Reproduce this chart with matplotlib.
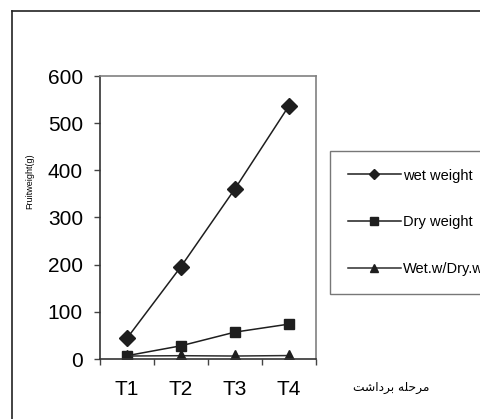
import matplotlib.pyplot as plt
from matplotlib.lines import Line2D

stages = ["T1", "T2", "T3", "T4"]
wet_weight = [44, 196, 361, 537]
dry_weight = [7, 28, 57, 74]
wet_dry_ratio = [6.3, 7.0, 6.3, 7.3]
yticks = [0, 100, 200, 300, 400, 500, 600]

W, H = 481, 419
fig = plt.figure(figsize=(W / 100, H / 100), dpi=100)
plt.rcParams['font.family'] = ['Liberation Sans', 'DejaVu Sans']

# outer chart frame, its right and bottom edges run off the page
fig.add_artist(Line2D([12 / W, 1.01], [1 - 11 / H, 1 - 11 / H], color='#222222', lw=1.2))
fig.add_artist(Line2D([12 / W, 12 / W], [1 - 11 / H, -0.01], color='#222222', lw=1.2))

ax = fig.add_axes([100 / W, 1 - 359 / H, 216 / W, 283 / H])
x = range(len(stages))
ink = '#1e1e1e'
ax.plot(x, wet_weight, color=ink, lw=1.1, marker='D', ms=8, label='wet weight')
ax.plot(x, dry_weight, color=ink, lw=1.1, marker='s', ms=7.5, label='Dry weight')
ax.plot(x, wet_dry_ratio, color='#2e2e2e', lw=1.1, marker='^', ms=8.5,
        markerfacecolor=ink, markeredgecolor=ink, label='Wet.w/Dry.w')

ax.set_xlim(-0.5, 3.5)
ax.set_ylim(0, 600)
ax.set_yticks(yticks)
ax.set_xticks(list(x))
ax.set_xticklabels(stages)
ax.set_xticks([-0.5, 0.5, 1.5, 2.5, 3.5], minor=True)
ax.tick_params(axis='x', which='major', length=0, pad=15, labelsize=15)
ax.tick_params(axis='x', which='minor', length=4, width=1, color='#444444', direction='out')
ax.tick_params(axis='y', length=4.3, width=1, color='#444444', direction='out', pad=8, labelsize=15)

for side in ('top', 'right'):
    ax.spines[side].set_color('#808080')
    ax.spines[side].set_linewidth(1.2)
for side in ('left', 'bottom'):
    ax.spines[side].set_color('#333333')
    ax.spines[side].set_linewidth(1.2)

fig.text(30 / W, 1 - 181 / H, 'Fruitweight(g)', rotation=90, fontsize=6.5,
         ha='center', va='center')

# Persian x-axis title: "مرحله برداشت" in visual order, presentation forms
fig.text(391 / W, 1 - 387 / H,
         '\uFE96\uFEB7\uFE8D\uFEA9\uFEAE\uFE91 \uFEEA\uFEE0\uFEA3\uFEAE\uFEE3',
         fontsize=8.8, ha='center', va='center', family=['DejaVu Sans'])

leg = fig.legend(loc='upper left', bbox_to_anchor=(330 / W, 1 - 151 / H),
                 borderaxespad=0, fontsize=10.5, handlelength=3.7, handletextpad=0.1,
                 labelspacing=2.25, borderpad=1.2, markerscale=0.7,
                 fancybox=False, frameon=True)
leg.get_frame().set_edgecolor('#555555')
leg.get_frame().set_linewidth(1.0)

fig.savefig('out.png', dpi=100)
